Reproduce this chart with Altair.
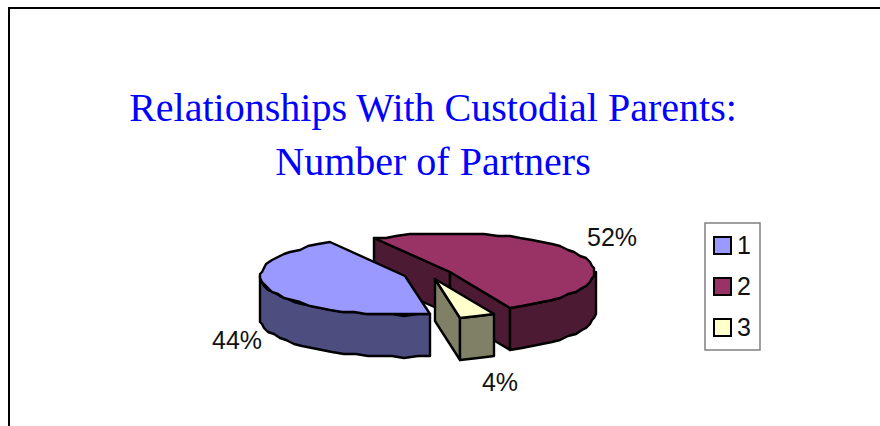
import math
import altair as alt

# Pie values, in percent, with their legend keys and colours
categories = ["1", "2", "3"]
shares = [44, 52, 4]
top_colors = ["#9999FF", "#993366", "#FFFFCC"]
side_colors = ["#4D4D80", "#4D1A33", "#808066"]

# Layout of the tilted pie, in canvas pixels
W, H = 880, 426
RX, RY, DEPTH = 145, 39, 42
START_ANGLE = 80
CENTERS = [(405, 276), (450, 272), (435, 279)]
LABEL_POS = [(237, 341), (612, 238), (500, 383)]
STEP = 5  # degrees between outline vertices; the rim is a coarse polyline
GRID = 2  # outline vertices snap to this many pixels


def snap(v):
    return round(v / GRID) * GRID


def rim_point(center, angle, drop=0):
    a = math.radians(angle)
    return [
        snap(center[0] + RX * math.cos(a)),
        snap(center[1] + RY * math.sin(a)) + drop,
    ]


def arc(center, a0, a1, drop=0):
    n = max(2, int(abs(a1 - a0) / STEP) + 1)
    return [rim_point(center, a0 + (a1 - a0) * i / (n - 1), drop) for i in range(n)]


def feature(ring, fill, category=None):
    ring = ring + [ring[0]]
    return {
        "type": "Feature",
        "geometry": {"type": "Polygon", "coordinates": [ring]},
        "properties": {"fill": fill, "category": category},
    }


def inner_wall(center, angle):
    p = rim_point(center, angle)
    return [p, list(center), [center[0], center[1] + DEPTH], [p[0], p[1] + DEPTH]]


def outer_wall(center, a0, a1):
    return arc(center, a0, a1) + arc(center, a1, a0, DEPTH)


projection = alt.Projection(type="identity", scale=1, translate=[0, 0])
base_stroke = dict(stroke="black", strokeWidth=2.4, strokeJoin="round")

# Sweep the slices clockwise, then paint maroon first so the others overlap it
spans = []
angle = START_ANGLE
for share in shares:
    spans.append((angle, angle + share * 3.6))
    angle += share * 3.6

walls = {0: [], 1: [], 2: []}
for i, (a0, a1) in enumerate(spans):
    c = CENTERS[i]
    if i == 0:
        walls[i].append(outer_wall(c, a0, 180))
    elif i == 1:
        walls[i].append(inner_wall(c, a0))
        walls[i].append(inner_wall(c, a1))
        walls[i].append(outer_wall(c, 360, a1))
    else:
        walls[i].append(inner_wall(c, a1))
        walls[i].append(outer_wall(c, a0, a1))

# Box behind the legend entries
layers = [
    alt.Chart(alt.Data(values=[{"k": 0}]))
    .mark_rect(fill="white", stroke="#808080", strokeWidth=1.5)
    .encode(x=alt.value(705), x2=alt.value(760), y=alt.value(223), y2=alt.value(350))
]

color_scale = alt.Scale(domain=categories, range=top_colors)
legend = alt.Legend(
    title=None,
    orient="none",
    legendX=710,
    legendY=233,
    padding=0,
    symbolType="square",
    symbolSize=289,
    symbolStrokeColor="black",
    symbolStrokeWidth=2,
    symbolOpacity=1,
    labelFont="Liberation Sans",
    labelFontSize=25,
    labelColor="#111111",
    labelOffset=2,
    rowPadding=15,
)

for i in [1, 0, 2]:
    side_features = [feature(ring, side_colors[i]) for ring in walls[i]]
    layers.append(
        alt.Chart(alt.Data(values=side_features))
        .mark_geoshape(**base_stroke)
        .encode(fill=alt.Fill("properties.fill:N", scale=None))
        .project(**projection.to_dict())
    )
    a0, a1 = spans[i]
    top_ring = [list(CENTERS[i])] + arc(CENTERS[i], a0, a1)
    layers.append(
        alt.Chart(alt.Data(values=[feature(top_ring, top_colors[i], categories[i])]))
        .mark_geoshape(**base_stroke)
        .encode(
            color=alt.Color("properties.category:N", scale=color_scale, legend=legend)
        )
        .project(**projection.to_dict())
    )

# Percentage labels
for share, (x, y) in zip(shares, LABEL_POS):
    layers.append(
        alt.Chart(alt.Data(values=[{"label": f"{share}%"}]))
        .mark_text(font="Liberation Sans", fontSize=25, color="#111111", align="center", baseline="middle")
        .encode(text="label:N", x=alt.value(x), y=alt.value(y))
    )

# Two-line heading
for line, y in [("Relationships With Custodial Parents:", 109), ("Number of Partners", 163)]:
    layers.append(
        alt.Chart(alt.Data(values=[{"line": line}]))
        .mark_text(font="Liberation Serif", fontSize=40, color="#0000FF", align="center", baseline="middle")
        .encode(text="line:N", x=alt.value(433), y=alt.value(y))
    )

# Outer frame, open at the right and bottom
layers.append(
    alt.Chart(alt.Data(values=[{"k": 0}]))
    .mark_rule(color="black", strokeWidth=2)
    .encode(x=alt.value(9), y=alt.value(8), y2=alt.value(H))
)
layers.append(
    alt.Chart(alt.Data(values=[{"k": 0}]))
    .mark_rule(color="black", strokeWidth=2)
    .encode(x=alt.value(8), x2=alt.value(W), y=alt.value(8))
)

chart = (
    alt.layer(*layers)
    .resolve_scale(color="shared")
    .properties(
        width=W,
        height=H,
        padding=0,
        autosize=alt.AutoSizeParams(type="none"),
        background="white",
    )
    .configure_view(stroke=None)
)

chart.save("out.html", embed_options={"renderer": "svg", "actions": False})
